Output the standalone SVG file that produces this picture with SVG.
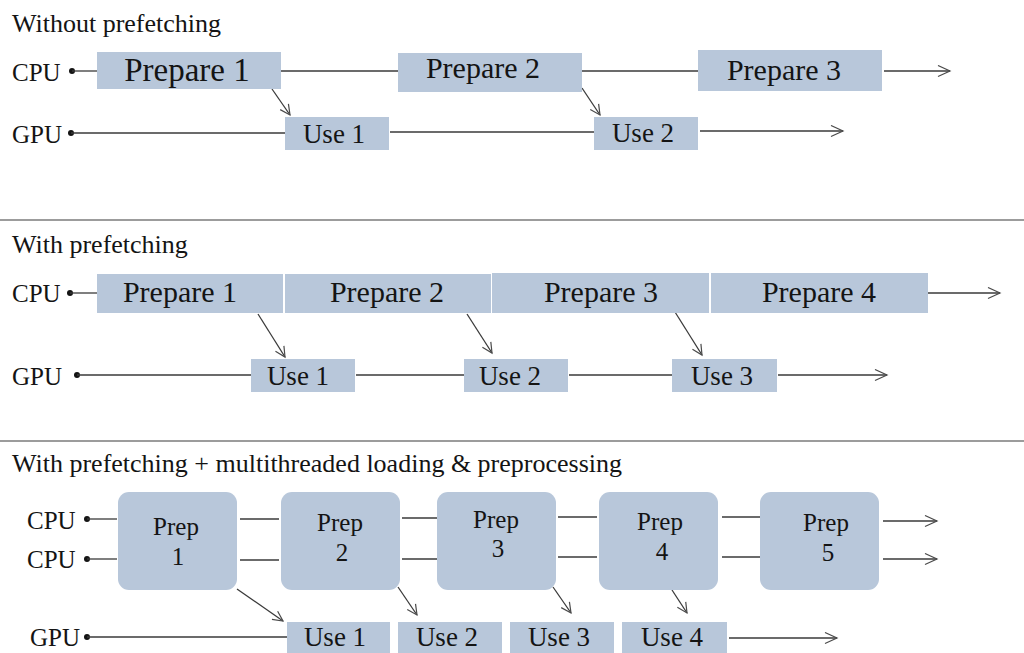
<svg xmlns="http://www.w3.org/2000/svg" width="1024" height="653" viewBox="0 0 1024 653">
<defs>
<style>
.bg{fill:#ffffff}
.box{fill:#b8c7da}
.t{font-family:"Liberation Serif","DejaVu Serif","Times New Roman",serif;fill:#141414}
.title{font-size:26px}
.lab{font-size:25px}
.big{font-size:33px;text-anchor:middle}
.mid{font-size:30px;text-anchor:middle}
.use{font-size:27px;text-anchor:middle}
.prep{font-size:25px;text-anchor:middle}
.ln{stroke:#3a3a3a;stroke-width:1.3;fill:none}
.sep{stroke:#3a3a3a;stroke-width:1.2}
.dot{fill:#141414}
</style>
<marker id="ah" markerUnits="userSpaceOnUse" markerWidth="14" markerHeight="14" refX="11" refY="6" orient="auto" viewBox="0 0 14 12">
<path d="M1,1 L11,6 L1,11" fill="none" stroke="#4a4a4a" stroke-width="1.2"/>
</marker>
<marker id="chev" markerUnits="userSpaceOnUse" markerWidth="16" markerHeight="14" refX="13" refY="6.5" orient="auto" viewBox="0 0 16 14">
<path d="M1,1 L13,6.5 L1,12" fill="none" stroke="#4a4a4a" stroke-width="1.2"/>
</marker>
</defs>
<rect class="bg" x="0" y="0" width="1024" height="653"/>

<g id="titles" font-family="Liberation Serif, DejaVu Serif, serif">
<text class="t title" x="12" y="32">Without prefetching</text>
<text class="t title" x="12" y="253">With prefetching</text>
<text class="t title" x="12" y="472">With prefetching + multithreaded loading &amp; preprocessing</text>
</g>

<g id="separators">
<line class="sep" x1="0" y1="220" x2="1024" y2="220"/>
<line class="sep" x1="0" y1="441" x2="1024" y2="441"/>
</g>

<g id="labels" font-family="Liberation Serif, DejaVu Serif, serif">
<text class="t lab" x="12" y="81">CPU</text>
<text class="t lab" x="12" y="143">GPU</text>
<text class="t lab" x="12" y="302">CPU</text>
<text class="t lab" x="12" y="385">GPU</text>
<text class="t lab" x="27" y="529">CPU</text>
<text class="t lab" x="27" y="568">CPU</text>
<text class="t lab" x="30" y="646">GPU</text>
</g>

<g id="connectors">
<circle class="dot" cx="72" cy="71" r="3"/>
<line class="ln" x1="72" y1="71" x2="97" y2="71"/>
<line class="ln" x1="281" y1="71" x2="398" y2="71"/>
<line class="ln" x1="582" y1="71" x2="698" y2="71"/>
<line class="ln" x1="884" y1="71" x2="950" y2="71" marker-end="url(#chev)"/>
<circle class="dot" cx="71" cy="133" r="3"/>
<line class="ln" x1="71" y1="133" x2="285" y2="133"/>
<line class="ln" x1="390" y1="132" x2="594" y2="132"/>
<line class="ln" x1="700" y1="131" x2="843" y2="131" marker-end="url(#chev)"/>
<line class="ln" x1="272" y1="89" x2="290" y2="115" marker-end="url(#ah)"/>
<line class="ln" x1="582" y1="88" x2="600" y2="115" marker-end="url(#ah)"/>
<circle class="dot" cx="70" cy="293" r="3"/>
<line class="ln" x1="70" y1="293" x2="97" y2="293"/>
<line class="ln" x1="928" y1="293" x2="1000" y2="293" marker-end="url(#chev)"/>
<circle class="dot" cx="77" cy="375" r="3"/>
<line class="ln" x1="77" y1="375" x2="251" y2="375"/>
<line class="ln" x1="356" y1="375" x2="464" y2="375"/>
<line class="ln" x1="569" y1="375" x2="672" y2="375"/>
<line class="ln" x1="778" y1="375" x2="887" y2="375" marker-end="url(#chev)"/>
<line class="ln" x1="258" y1="314" x2="285" y2="357" marker-end="url(#ah)"/>
<line class="ln" x1="467" y1="314" x2="492" y2="353" marker-end="url(#ah)"/>
<line class="ln" x1="675" y1="312" x2="702" y2="355" marker-end="url(#ah)"/>
<circle class="dot" cx="87" cy="519" r="3"/>
<line class="ln" x1="87" y1="519" x2="117" y2="519"/>
<circle class="dot" cx="87" cy="559" r="3"/>
<line class="ln" x1="87" y1="559" x2="117" y2="559"/>
<line class="ln" x1="240" y1="519" x2="279" y2="519"/>
<line class="ln" x1="240" y1="560" x2="279" y2="560"/>
<line class="ln" x1="402" y1="518" x2="437" y2="518"/>
<line class="ln" x1="402" y1="559" x2="437" y2="559"/>
<line class="ln" x1="558" y1="517" x2="597" y2="517"/>
<line class="ln" x1="558" y1="557" x2="597" y2="557"/>
<line class="ln" x1="722" y1="517" x2="760" y2="517"/>
<line class="ln" x1="722" y1="557" x2="760" y2="557"/>
<line class="ln" x1="883" y1="521" x2="937" y2="521" marker-end="url(#chev)"/>
<line class="ln" x1="883" y1="559" x2="937" y2="559" marker-end="url(#chev)"/>
<circle class="dot" cx="87" cy="637" r="3"/>
<line class="ln" x1="87" y1="637" x2="287" y2="637"/>
<line class="ln" x1="729" y1="638" x2="837" y2="638" marker-end="url(#chev)"/>
<line class="ln" x1="237" y1="589" x2="283" y2="621" marker-end="url(#ah)"/>
<line class="ln" x1="398" y1="587" x2="417" y2="615" marker-end="url(#ah)"/>
<line class="ln" x1="553" y1="587" x2="571" y2="613" marker-end="url(#ah)"/>
<line class="ln" x1="672" y1="590" x2="687" y2="613" marker-end="url(#ah)"/>
</g>

<g id="s1-prepare1"><rect class="box" x="97" y="52" width="184" height="37"/><text class="t big" x="187" y="81">Prepare 1</text></g>
<g id="s1-prepare2"><rect class="box" x="398" y="53" width="184" height="39"/><text class="t mid" x="483" y="78">Prepare 2</text></g>
<g id="s1-prepare3"><rect class="box" x="698" y="50" width="184" height="41"/><text class="t mid" x="784" y="80">Prepare 3</text></g>
<g id="s1-use1"><rect class="box" x="285" y="117" width="104" height="33"/><text class="t use" x="334" y="143">Use 1</text></g>
<g id="s1-use2"><rect class="box" x="594" y="117" width="104" height="33"/><text class="t use" x="643" y="142">Use 2</text></g>

<g id="s2-prepare1"><rect class="box" x="97" y="274" width="186" height="39"/><text class="t mid" x="180" y="302">Prepare 1</text></g>
<g id="s2-prepare2"><rect class="box" x="285" y="274" width="206" height="39"/><text class="t mid" x="387" y="302">Prepare 2</text></g>
<g id="s2-prepare3"><rect class="box" x="492" y="273" width="217" height="40"/><text class="t mid" x="601" y="302">Prepare 3</text></g>
<g id="s2-prepare4"><rect class="box" x="711" y="273" width="217" height="40"/><text class="t mid" x="819" y="302">Prepare 4</text></g>
<g id="s2-use1"><rect class="box" x="251" y="359" width="104" height="33"/><text class="t use" x="298" y="385">Use 1</text></g>
<g id="s2-use2"><rect class="box" x="464" y="359" width="104" height="33"/><text class="t use" x="510" y="385">Use 2</text></g>
<g id="s2-use3"><rect class="box" x="672" y="359" width="105" height="33"/><text class="t use" x="722" y="385">Use 3</text></g>

<g id="s3-prep1"><rect class="box" x="118" y="492" width="119" height="98" rx="11"/><text class="t prep" x="176" y="535">Prep</text><text class="t prep" x="178" y="565">1</text></g>
<g id="s3-prep2"><rect class="box" x="281" y="492" width="119" height="98" rx="11"/><text class="t prep" x="340" y="531">Prep</text><text class="t prep" x="342" y="561">2</text></g>
<g id="s3-prep3"><rect class="box" x="437" y="492" width="119" height="98" rx="11"/><text class="t prep" x="496" y="528">Prep</text><text class="t prep" x="498" y="557">3</text></g>
<g id="s3-prep4"><rect class="box" x="599" y="492" width="119" height="98" rx="11"/><text class="t prep" x="660" y="530">Prep</text><text class="t prep" x="662" y="560">4</text></g>
<g id="s3-prep5"><rect class="box" x="760" y="492" width="119" height="98" rx="11"/><text class="t prep" x="826" y="531">Prep</text><text class="t prep" x="828" y="561">5</text></g>
<g id="s3-use1"><rect class="box" x="287" y="622" width="103" height="35"/><text class="t use" x="335" y="646">Use 1</text></g>
<g id="s3-use2"><rect class="box" x="398" y="622" width="104" height="35"/><text class="t use" x="447" y="646">Use 2</text></g>
<g id="s3-use3"><rect class="box" x="510" y="622" width="104" height="35"/><text class="t use" x="559" y="646">Use 3</text></g>
<g id="s3-use4"><rect class="box" x="622" y="622" width="105" height="35"/><text class="t use" x="672" y="646">Use 4</text></g>
</svg>
